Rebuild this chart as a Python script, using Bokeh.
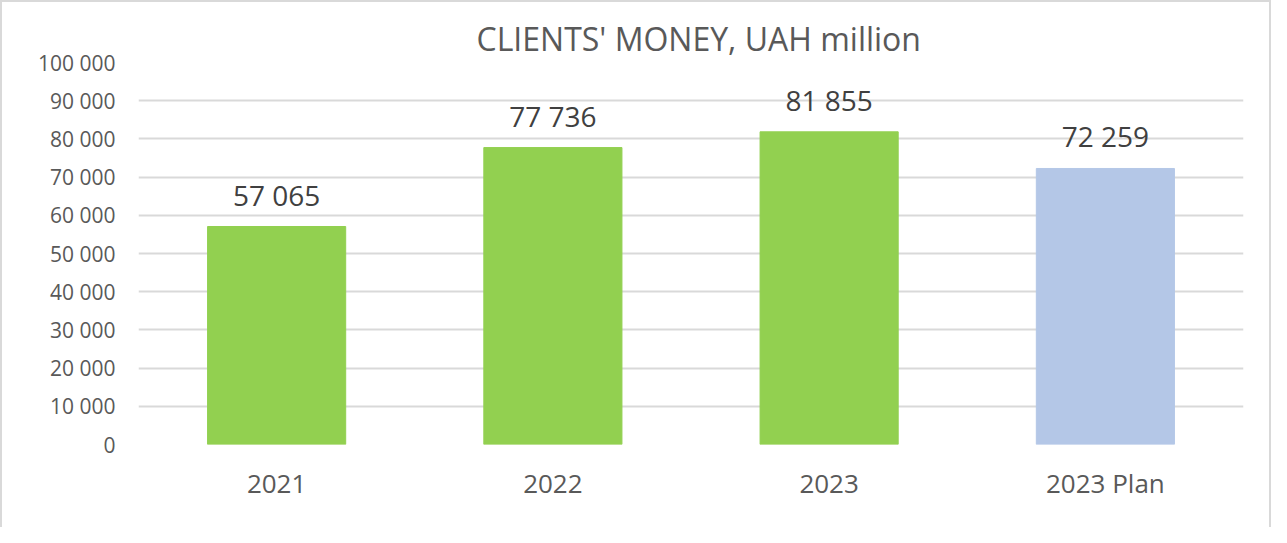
from bokeh.plotting import figure
from bokeh.models import Range1d, FactorRange, CustomJSTickFormatter, FixedTicker, ColumnDataSource
from bokeh.core.properties import value
from bokeh.embed import file_html
from bokeh.resources import INLINE

categories = ["2021", "2022", "2023", "2023 Plan"]
amounts = [57065, 77736, 81855, 72259]
bar_colors = ["#92D050", "#92D050", "#92D050", "#B4C7E7"]
y_ticks = [0, 10000, 20000, 30000, 40000, 50000, 60000, 70000, 80000, 90000, 100000]

FONT = "Open Sans"

def fmt(v):
    return f"{v:,}".replace(",", " ")

src = ColumnDataSource(dict(cat=categories, val=amounts, color=bar_colors,
                            label=[fmt(v) for v in amounts]))

p = figure(width=1271, height=527, x_range=FactorRange(*categories, range_padding=0),
           y_range=Range1d(0, 100000), output_backend="svg", toolbar_location=None,
           min_border_left=136, min_border_right=30, min_border_top=60, min_border_bottom=85)
p.styles = {"border-left": "2px solid #d9d9d9", "border-top": "2px solid #d9d9d9",
            "border-right": "2px solid #d9d9d9", "box-sizing": "border-box"}

p.title.text = "CLIENTS' MONEY, UAH million"
p.title.align = "left"
p.title.offset = 338
p.title.standoff = 6
p.title.text_font = FONT
p.title.text_font_size = "32px"
p.title.text_font_style = "normal"
p.title.text_color = "#595959"

p.vbar(x="cat", top="val", width=0.5, color="color", source=src)
p.text(x="cat", y="val", text="label", source=src, text_align="center",
       text_baseline="alphabetic", y_offset=-32, text_font=value(FONT),
       text_font_size="28px", text_color="#404040")

p.outline_line_color = None
p.xgrid.grid_line_color = None
p.ygrid.grid_line_color = "#d9d9d9"
p.ygrid.grid_line_width = 2
p.yaxis.ticker = FixedTicker(ticks=y_ticks)
p.yaxis.formatter = CustomJSTickFormatter(code="return tick.toFixed(0).replace(/\\B(?=(\\d{3})+(?!\\d))/g, ' ');")

for ax in (p.xaxis, p.yaxis):
    ax.axis_line_color = None
    ax.major_tick_line_color = None
    ax.minor_tick_line_color = None
    ax.major_label_text_font = FONT
    ax.major_label_text_color = "#595959"
p.yaxis.major_label_text_font_size = "21px"
p.yaxis.major_label_standoff = 17
p.xaxis.major_label_text_font_size = "26px"
p.xaxis.major_label_standoff = 14

open("out.html", "w").write(file_html(p, INLINE))
